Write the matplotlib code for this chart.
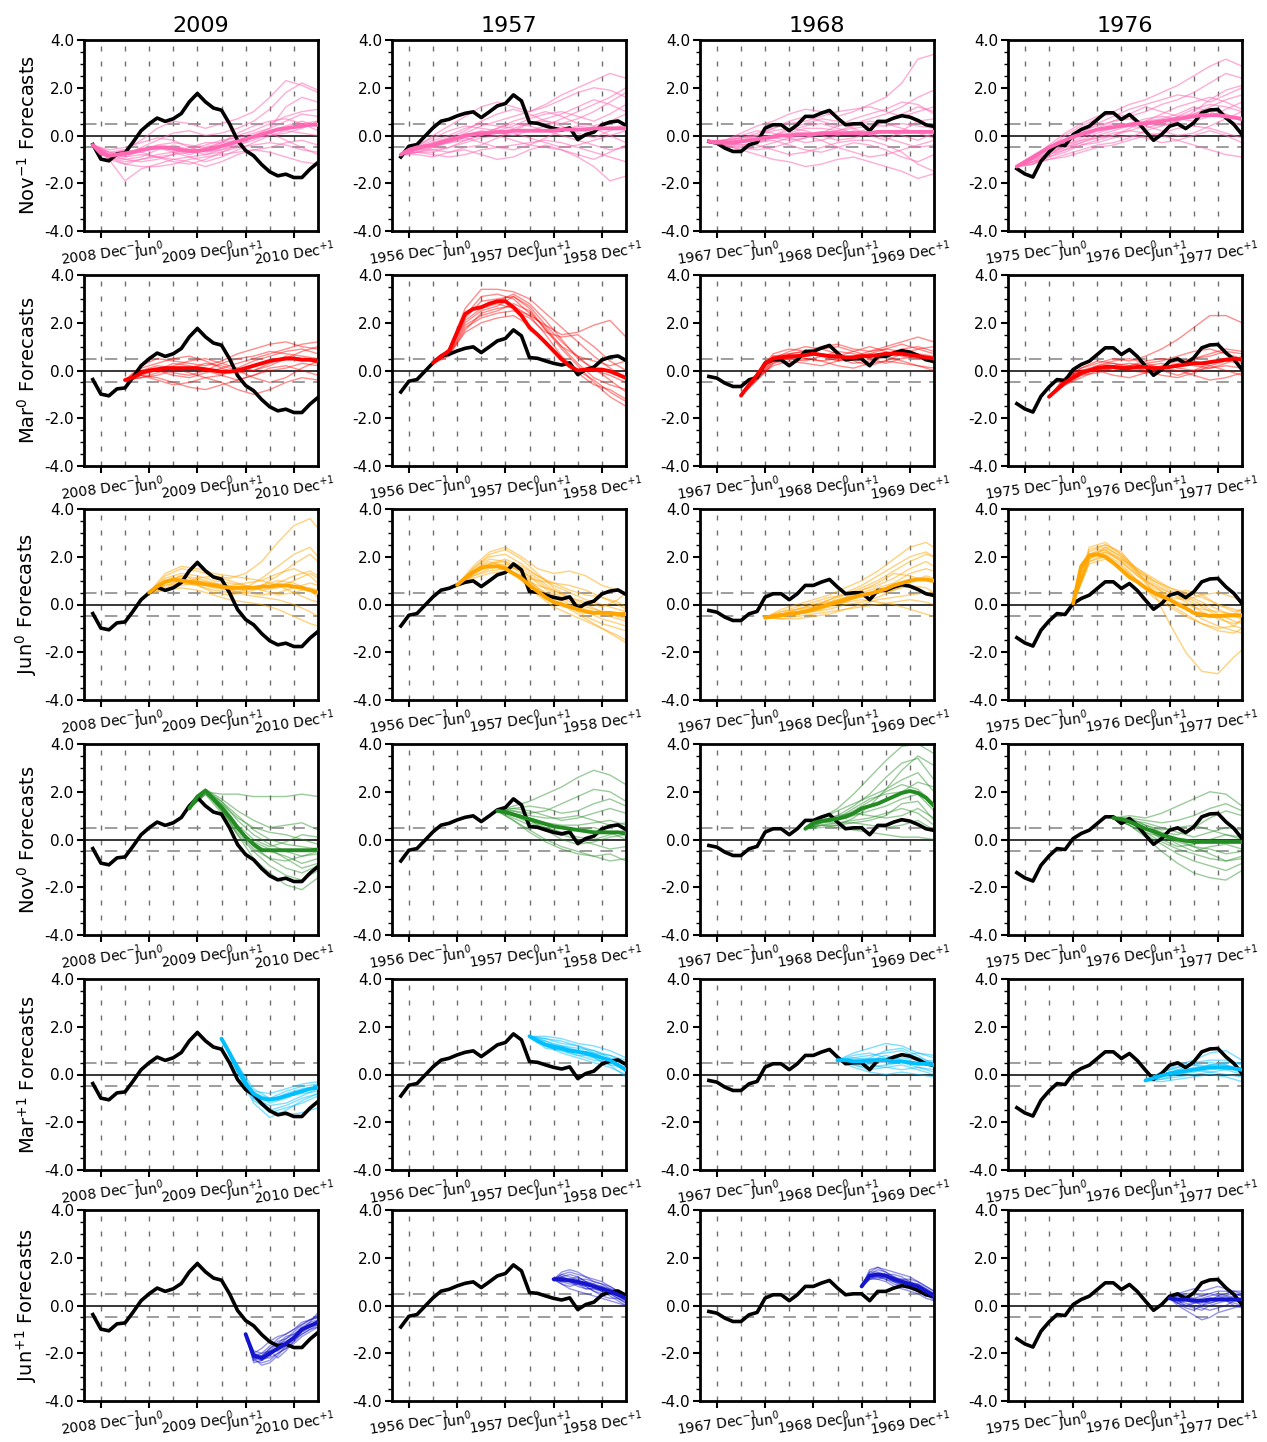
import numpy as np
import matplotlib
matplotlib.use("Agg")
import matplotlib.pyplot as plt
from matplotlib.ticker import MultipleLocator, FormatStrFormatter

plt.rcParams['font.family'] = ['DejaVu Sans']
plt.rcParams['axes.unicode_minus'] = False

# ---------------------------------------------------------------------------
# Data: Nino-3.4 style index, months counted from December of year -1 (= 0)
# ---------------------------------------------------------------------------
YEARS = [2009, 1957, 1968, 1976]
LEADS = ['novm1', 'mar0', 'jun0', 'nov0', 'marp1', 'junp1']
ROW_LABELS = ['Nov$^{-1}$ Forecasts', 'Mar$^{0}$ Forecasts', 'Jun$^{0}$ Forecasts',
              'Nov$^{0}$ Forecasts', 'Mar$^{+1}$ Forecasts', 'Jun$^{+1}$ Forecasts']
LEAD_START = {'novm1': -1, 'mar0': 3, 'jun0': 6, 'nov0': 11, 'marp1': 15, 'junp1': 18}
LEAD_COLOR = {'novm1': '#FF69B4', 'mar0': '#FF0000', 'jun0': '#FFA500',
              'nov0': '#228B22', 'marp1': '#00BFFF', 'junp1': '#1414CC'}
MEMBER_ALPHA = {'novm1': 0.55, 'mar0': 0.45, 'jun0': 0.5,
                'nov0': 0.45, 'marp1': 0.5, 'junp1': 0.45}
MEMBER_MONTHS = {
    'novm1': [-1, 1, 3, 5, 7, 9, 11, 13, 15, 17, 19, 21, 23, 25, 27],
    'mar0': [3, 5, 7, 9, 11, 13, 15, 17, 19, 21, 23, 25, 27],
    'jun0': [6, 8, 10, 12, 14, 16, 18, 20, 22, 24, 26, 27],
    'nov0': [11, 13, 15, 17, 19, 21, 23, 25, 27],
    'marp1': [15, 17, 19, 21, 23, 25, 27],
    'junp1': [18, 19, 20, 21, 22, 23, 24, 25, 26, 27],
}
OBS_START = -1

# observed index, Nov(-1) .. Mar(+2)
OBS_2009 = [-0.38, -0.99, -1.06, -0.77, -0.73, -0.28, 0.2, 0.49, 0.73, 0.59, 0.70, 0.92, 1.41, 1.76,
            1.41, 1.15, 1.06, 0.49, -0.21, -0.63, -0.85, -1.22, -1.52, -1.69, -1.62, -1.76, -1.76, -1.41, -1.13]
OBS_1957 = [-0.9, -0.45, -0.38, -0.03, 0.32, 0.6, 0.68, 0.82, 0.93, 0.99, 0.75, 0.99, 1.24, 1.34,
            1.7, 1.45, 0.54, 0.51, 0.4, 0.3, 0.23, 0.32, -0.17, 0.04, 0.14, 0.44, 0.56, 0.61, 0.42]
OBS_1968 = [-0.25, -0.32, -0.53, -0.67, -0.67, -0.39, -0.29, 0.31, 0.45, 0.45, 0.2, 0.45, 0.8, 0.8,
            0.94, 1.05, 0.73, 0.45, 0.49, 0.49, 0.2, 0.59, 0.59, 0.73, 0.83, 0.77, 0.63, 0.45, 0.38]
OBS_1976 = [-1.39, -1.61, -1.74, -1.08, -0.69, -0.38, -0.42, 0.04, 0.25, 0.39, 0.67, 0.95, 0.95, 0.67,
            0.88, 0.58, 0.18, -0.2, 0.04, 0.39, 0.49, 0.29, 0.53, 0.95, 1.07, 1.09, 0.74, 0.46, 0.04]

# ---- Nov(-1) initialised forecasts -----------------------------------------
MEAN_NOVM1_2009 = [-0.4, -0.75, -0.85, -0.8, -0.75, -0.7, -0.6, -0.55, -0.5, -0.5, -0.55, -0.6, -0.65, -0.65,
                   -0.6, -0.55, -0.45, -0.35, -0.25, -0.15, -0.05, 0.05, 0.15, 0.25, 0.3, 0.35, 0.4, 0.45, 0.45]
MEMBERS_NOVM1_2009 = [
    [-0.4, -1.0, -1.9, -1.4, -1.2, -1.0, -0.9, -0.8, -0.6, -0.4, -0.2, 0.1, 0.3, 0.5, 0.6],
    [-0.4, -0.8, -0.6, -0.2, 0.3, 0.6, 0.5, 0.3, 0.5, 0.7, 1.0, 1.6, 2.3, 2.1, 1.8],
    [-0.4, -0.9, -0.8, -0.5, -0.2, 0.1, 0.2, 0.0, 0.1, 0.3, 0.6, 1.1, 1.8, 2.2, 1.9],
    [-0.4, -0.7, -0.9, -0.8, -0.9, -1.1, -1.2, -1.0, -0.7, -0.5, -0.4, -0.3, -0.4, -0.6, -0.7],
    [-0.4, -0.9, -1.1, -1.0, -0.8, -0.7, -0.9, -1.1, -0.9, -0.6, -0.3, 0.0, 0.2, 0.1, 0.0],
    [-0.4, -0.8, -0.7, -0.6, -0.4, -0.3, -0.4, -0.5, -0.3, 0.0, 0.2, 0.5, 0.8, 1.0, 1.1],
    [-0.4, -0.6, -0.5, -0.3, -0.1, -0.2, -0.5, -0.7, -0.6, -0.3, 0.0, 0.3, 0.6, 0.9, 0.8],
    [-0.4, -1.0, -1.2, -1.3, -1.3, -1.2, -1.0, -0.9, -0.8, -0.7, -0.6, -0.5, -0.3, -0.2, -0.4],
    [-0.4, -0.8, -1.0, -0.9, -0.6, -0.4, -0.6, -0.8, -0.7, -0.4, -0.1, 0.2, 0.4, 0.6, 0.4],
    [-0.4, -0.7, -0.8, -0.7, -0.5, -0.6, -0.8, -0.6, -0.3, 0.1, 0.4, 0.6, 0.7, 0.5, 0.2],
    [-0.4, -0.9, -1.2, -1.0, -0.9, -1.0, -1.1, -1.3, -1.1, -0.8, -0.6, -0.7, -0.9, -1.1, -1.2],
    [-0.4, -0.8, -0.9, -0.6, -0.5, -0.7, -0.6, -0.4, -0.2, -0.1, 0.1, 0.3, 1.2, 1.6, 1.4],
    [-0.4, -0.7, -0.6, -0.7, -0.9, -0.8, -0.7, -0.5, -0.4, -0.2, -0.1, 0.0, 0.1, 0.3, 0.6],
    [-0.4, -0.9, -1.0, -1.1, -1.0, -0.8, -0.5, -0.3, -0.3, -0.2, 0.0, 0.1, -0.2, -0.5, -0.8],
]
MEAN_NOVM1_1957 = [-0.8, -0.6, -0.5, -0.45, -0.4, -0.3, -0.2, -0.1, 0.0, 0.05, 0.1, 0.1, 0.15, 0.15,
                   0.2, 0.2, 0.2, 0.2, 0.2, 0.2, 0.25, 0.25, 0.25, 0.25, 0.3, 0.3, 0.3, 0.3, 0.3]
MEMBERS_NOVM1_1957 = [
    [-0.8, -0.5, 0.0, 0.4, 0.8, 1.2, 1.4, 1.2, 1.0, 1.3, 1.7, 2.0, 2.3, 2.6, 2.4],
    [-0.8, -0.6, -0.4, -0.2, 0.1, 0.4, 0.6, 0.8, 1.0, 1.2, 1.5, 1.8, 2.0, 1.9, 1.6],
    [-0.8, -0.7, -0.6, -0.5, -0.3, -0.1, 0.0, -0.2, -0.4, -0.5, -0.6, -0.9, -1.3, -1.9, -1.7],
    [-0.8, -0.5, -0.2, 0.0, 0.3, 0.5, 0.4, 0.3, 0.5, 0.7, 0.9, 1.2, 1.5, 1.3, 1.0],
    [-0.8, -0.7, -0.8, -0.9, -0.8, -0.6, -0.5, -0.4, -0.3, -0.2, -0.3, -0.5, -0.7, -0.9, -1.1],
    [-0.8, -0.6, -0.5, -0.3, -0.1, 0.1, 0.3, 0.5, 0.4, 0.2, 0.0, -0.2, -0.4, -0.6, -0.5],
    [-0.8, -0.4, -0.1, 0.2, 0.4, 0.3, 0.2, 0.4, 0.7, 0.9, 1.0, 0.8, 0.6, 0.9, 1.3],
    [-0.8, -0.6, -0.6, -0.7, -0.5, -0.4, -0.1, 0.2, 0.5, 0.6, 0.4, 0.1, -0.1, 0.2, 0.5],
    [-0.8, -0.7, -0.5, -0.2, -0.1, -0.3, -0.5, -0.6, -0.4, -0.1, 0.2, 0.4, 0.3, 0.0, -0.3],
    [-0.8, -0.5, -0.3, -0.1, 0.2, 0.6, 0.9, 1.1, 0.9, 0.6, 0.5, 0.7, 1.0, 1.4, 1.8],
    [-0.8, -0.7, -0.7, -0.5, -0.2, 0.0, 0.2, 0.1, -0.1, -0.3, -0.5, -0.4, -0.2, 0.0, 0.2],
    [-0.8, -0.6, -0.3, -0.1, 0.0, 0.2, 0.1, 0.0, 0.2, 0.4, 0.7, 1.0, 1.3, 1.6, 2.0],
    [-0.8, -0.8, -0.9, -0.7, -0.6, -0.8, -1.0, -0.9, -0.6, -0.4, -0.6, -0.8, -1.0, -0.7, -0.4],
    [-0.8, -0.6, -0.4, -0.3, -0.2, 0.0, 0.3, 0.6, 0.8, 1.0, 0.8, 0.5, 0.4, 0.6, 0.9],
]
MEAN_NOVM1_1968 = [-0.25, -0.3, -0.3, -0.3, -0.25, -0.2, -0.15, -0.1, -0.05, 0.0, 0.0, 0.05, 0.05, 0.05,
                   0.1, 0.1, 0.1, 0.1, 0.1, 0.1, 0.1, 0.15, 0.15, 0.15, 0.15, 0.15, 0.15, 0.15, 0.15]
MEMBERS_NOVM1_1968 = [
    [-0.25, -0.2, 0.1, 0.4, 0.6, 0.9, 1.1, 1.0, 0.8, 1.0, 1.3, 1.6, 2.2, 3.2, 3.4],
    [-0.25, -0.4, -0.6, -0.8, -1.0, -1.1, -1.3, -1.2, -1.0, -0.9, -1.1, -1.3, -1.5, -1.8, -1.6],
    [-0.25, -0.2, -0.1, 0.1, 0.3, 0.5, 0.6, 0.8, 1.0, 1.1, 1.2, 1.0, 0.8, 1.0, 1.2],
    [-0.25, -0.3, -0.4, -0.3, -0.2, -0.4, -0.6, -0.7, -0.5, -0.3, -0.4, -0.6, -0.9, -1.1, -0.8],
    [-0.25, -0.4, -0.3, -0.1, 0.0, 0.2, 0.4, 0.5, 0.3, 0.1, 0.3, 0.6, 0.9, 1.2, 1.0],
    [-0.25, -0.3, -0.5, -0.6, -0.5, -0.3, -0.1, 0.1, 0.2, 0.4, 0.6, 0.5, 0.3, 0.1, -0.1],
    [-0.25, -0.2, 0.0, 0.2, 0.1, -0.1, -0.3, -0.2, 0.0, 0.2, 0.1, -0.1, -0.3, -0.5, -0.4],
    [-0.25, -0.3, -0.2, 0.0, 0.3, 0.6, 0.8, 0.6, 0.4, 0.5, 0.7, 0.9, 1.2, 1.6, 1.9],
    [-0.25, -0.4, -0.6, -0.5, -0.3, -0.1, 0.0, -0.2, -0.5, -0.7, -0.9, -0.8, -0.6, -0.4, -0.2],
    [-0.25, -0.2, -0.2, -0.3, -0.1, 0.1, 0.3, 0.3, 0.2, 0.3, 0.4, 0.4, 0.5, 0.4, 0.3],
    [-0.25, -0.3, -0.1, 0.0, -0.1, -0.2, -0.1, 0.1, 0.4, 0.7, 0.9, 1.1, 1.4, 1.3, 0.9],
    [-0.25, -0.3, -0.4, -0.4, -0.6, -0.8, -0.7, -0.5, -0.3, -0.2, -0.2, -0.4, -0.7, -1.2, -1.5],
    [-0.25, -0.2, -0.1, 0.0, 0.2, 0.3, 0.2, 0.0, -0.2, -0.1, 0.1, 0.2, 0.0, -0.2, 0.1],
    [-0.25, -0.4, -0.5, -0.3, 0.0, 0.3, 0.5, 0.7, 0.6, 0.3, 0.0, -0.2, 0.2, 0.6, 0.7],
]
MEAN_NOVM1_1976 = [-1.3, -1.1, -0.9, -0.7, -0.5, -0.35, -0.2, -0.05, 0.05, 0.15, 0.25, 0.3, 0.35, 0.4,
                   0.45, 0.5, 0.5, 0.55, 0.6, 0.65, 0.7, 0.75, 0.8, 0.85, 0.85, 0.85, 0.8, 0.75, 0.7]
MEMBERS_NOVM1_1976 = [
    [-1.3, -1.0, -0.5, 0.0, 0.4, 0.7, 1.0, 1.3, 1.5, 1.8, 2.1, 2.5, 2.9, 3.2, 2.9],
    [-1.3, -1.2, -0.9, -0.6, -0.3, -0.1, 0.1, 0.2, 0.1, 0.0, -0.2, -0.4, -0.6, -0.8, -0.9],
    [-1.3, -0.9, -0.4, 0.1, 0.5, 0.8, 0.9, 0.8, 1.0, 1.3, 1.5, 1.8, 2.2, 2.6, 2.4],
    [-1.3, -1.1, -0.8, -0.5, -0.2, 0.1, 0.3, 0.5, 0.7, 0.8, 0.7, 0.6, 0.8, 1.1, 1.4],
    [-1.3, -1.2, -1.0, -0.8, -0.6, -0.4, -0.3, -0.1, 0.2, 0.4, 0.6, 0.9, 1.2, 1.5, 1.7],
    [-1.3, -1.0, -0.6, -0.2, 0.2, 0.4, 0.6, 0.9, 1.2, 1.0, 0.8, 0.9, 1.1, 0.9, 0.6],
    [-1.3, -1.1, -0.9, -0.7, -0.4, -0.3, -0.1, 0.0, -0.1, -0.3, -0.2, 0.0, 0.2, 0.0, -0.3],
    [-1.3, -0.9, -0.6, -0.3, 0.0, 0.3, 0.6, 0.7, 0.5, 0.4, 0.6, 1.0, 1.5, 1.9, 2.1],
    [-1.3, -1.0, -0.7, -0.5, -0.3, 0.0, 0.2, 0.4, 0.6, 0.7, 0.9, 1.2, 1.0, 0.7, 0.4],
    [-1.3, -1.2, -0.8, -0.4, -0.1, 0.2, 0.5, 0.4, 0.3, 0.5, 0.8, 1.1, 1.3, 1.2, 1.0],
    [-1.3, -1.1, -0.7, -0.4, -0.2, -0.1, 0.0, 0.2, 0.4, 0.2, 0.0, 0.1, 0.4, 0.7, 1.0],
    [-1.3, -1.0, -0.8, -0.6, -0.4, -0.2, 0.0, 0.3, 0.6, 0.9, 1.2, 1.4, 1.6, 1.4, 1.1],
    [-1.3, -1.1, -1.0, -0.9, -0.7, -0.5, -0.4, -0.2, 0.0, 0.1, 0.3, 0.4, 0.3, 0.1, -0.1],
    [-1.3, -0.9, -0.5, -0.2, 0.1, 0.5, 0.8, 1.1, 1.3, 1.5, 1.7, 1.6, 1.4, 1.7, 2.0],
]

# ---- Mar(0) initialised forecasts ------------------------------------------
MEAN_MAR0_2009 = [-0.4, -0.3, -0.1, 0.0, 0.05, 0.1, 0.1, 0.1, 0.1, 0.1, 0.05, 0.0, -0.05,
                  -0.05, 0.0, 0.1, 0.2, 0.3, 0.4, 0.45, 0.5, 0.5, 0.45, 0.45, 0.4]
MEMBERS_MAR0_2009 = [
    [-0.4, 0.2, 0.5, 0.4, 0.3, 0.2, 0.4, 0.7, 0.9, 1.1, 1.2, 1.0, 0.9],
    [-0.4, -0.2, -0.3, -0.5, -0.7, -0.8, -0.6, -0.4, -0.2, 0.0, 0.1, 0.3, 0.2],
    [-0.4, 0.0, 0.2, 0.1, -0.1, -0.3, -0.2, 0.1, 0.4, 0.6, 0.8, 0.9, 0.7],
    [-0.4, -0.3, -0.1, 0.2, 0.4, 0.5, 0.3, 0.1, 0.0, 0.2, 0.5, 0.8, 1.0],
    [-0.4, -0.2, -0.4, -0.6, -0.5, -0.3, -0.5, -0.8, -1.0, -0.8, -0.5, -0.3, -0.4],
    [-0.4, 0.1, 0.3, 0.5, 0.6, 0.4, 0.1, -0.1, 0.0, 0.3, 0.6, 0.5, 0.3],
    [-0.4, -0.1, 0.0, -0.2, -0.3, -0.1, 0.1, 0.3, 0.5, 0.7, 0.9, 1.1, 1.2],
    [-0.4, -0.2, 0.0, 0.3, 0.2, 0.0, -0.2, -0.4, -0.2, 0.1, 0.2, 0.0, -0.2],
    [-0.4, 0.0, 0.1, -0.1, -0.2, 0.0, 0.3, 0.5, 0.6, 0.8, 0.7, 0.6, 0.5],
    [-0.4, -0.3, -0.2, 0.0, 0.1, 0.3, 0.2, 0.0, -0.3, -0.5, -0.3, 0.1, 0.4],
]
MEAN_MAR0_1957 = [0.32, 0.6, 0.82, 1.6, 2.37, 2.58, 2.65, 2.8, 2.9, 2.9, 2.65, 2.3, 1.8,
                  1.5, 1.17, 0.82, 0.47, 0.18, 0.0, 0.04, 0.04, 0.04, -0.03, -0.17, -0.31]
MEMBERS_MAR0_1957 = [
    [0.3, 0.9, 2.6, 3.4, 3.4, 3.3, 3.0, 2.4, 1.8, 1.2, 0.6, 0.1, -0.3],
    [0.3, 0.8, 2.0, 2.5, 2.7, 3.1, 2.7, 1.9, 1.5, 1.6, 1.9, 2.1, 1.4],
    [0.3, 0.7, 1.8, 2.2, 2.4, 2.5, 2.2, 1.6, 1.4, 1.5, 1.0, 0.4, 0.0],
    [0.3, 0.8, 2.3, 3.1, 3.2, 3.0, 2.4, 1.8, 1.0, 0.3, -0.3, -0.6, -0.8],
    [0.3, 0.7, 1.6, 2.0, 2.2, 2.3, 1.9, 1.1, 0.5, -0.1, -0.6, -0.8, -1.2],
    [0.3, 0.9, 2.4, 2.7, 2.9, 3.2, 2.8, 2.1, 1.3, 0.5, 0.1, -0.4, -0.9],
    [0.3, 0.8, 2.1, 2.6, 2.8, 2.6, 2.3, 1.9, 1.2, 0.6, 0.0, -0.2, -0.5],
    [0.3, 0.7, 1.9, 2.3, 2.5, 2.8, 2.5, 1.7, 0.9, 0.2, -0.5, -1.1, -1.5],
    [0.3, 0.8, 2.2, 2.9, 3.0, 3.1, 2.6, 1.7, 1.0, 0.6, 0.4, 0.2, 0.4],
    [0.3, 0.6, 1.7, 2.4, 2.6, 2.7, 2.3, 1.5, 0.6, 0.0, -0.4, -0.9, -1.3],
]
MEAN_MAR0_1968 = [-1.05, -0.6, -0.2, 0.3, 0.5, 0.55, 0.6, 0.6, 0.65, 0.7, 0.65, 0.6, 0.6,
                  0.55, 0.55, 0.6, 0.6, 0.65, 0.7, 0.7, 0.7, 0.65, 0.6, 0.55, 0.5]
MEMBERS_MAR0_1968 = [
    [-1.05, -0.1, 0.7, 0.9, 0.8, 1.0, 1.1, 0.9, 0.8, 1.0, 1.2, 1.4, 1.2],
    [-1.05, -0.3, 0.4, 0.3, 0.5, 0.4, 0.2, 0.1, 0.3, 0.4, 0.3, 0.2, 0.0],
    [-1.05, -0.2, 0.6, 0.7, 0.8, 0.7, 0.5, 0.6, 0.8, 0.9, 0.8, 0.7, 0.6],
    [-1.05, -0.4, 0.3, 0.5, 0.4, 0.6, 0.8, 0.7, 0.5, 0.3, 0.5, 0.6, 0.4],
    [-1.05, -0.2, 0.5, 0.8, 1.0, 0.9, 0.7, 0.4, 0.2, 0.4, 0.7, 0.9, 1.0],
    [-1.05, -0.3, 0.2, 0.4, 0.3, 0.2, 0.4, 0.6, 0.7, 0.6, 0.4, 0.2, 0.1],
    [-1.05, -0.1, 0.6, 0.6, 0.7, 0.9, 1.0, 0.8, 0.6, 0.7, 0.9, 1.0, 0.8],
    [-1.05, -0.3, 0.4, 0.6, 0.5, 0.4, 0.5, 0.3, 0.4, 0.6, 0.8, 0.6, 0.3],
    [-1.05, -0.2, 0.5, 0.5, 0.6, 0.7, 0.6, 0.8, 1.0, 0.8, 0.6, 0.5, 0.5],
    [-1.05, -0.4, 0.3, 0.7, 0.8, 0.6, 0.4, 0.5, 0.7, 0.9, 1.1, 0.9, 0.7],
]
MEAN_MAR0_1976 = [-1.1, -0.8, -0.5, -0.3, -0.1, 0.0, 0.1, 0.15, 0.15, 0.1, 0.1, 0.15, 0.15,
                  0.1, 0.1, 0.15, 0.2, 0.25, 0.3, 0.3, 0.35, 0.4, 0.45, 0.5, 0.45]
MEMBERS_MAR0_1976 = [
    [-1.1, -0.3, 0.1, 0.3, 0.5, 0.4, 0.6, 0.9, 1.3, 1.8, 2.3, 2.3, 2.0],
    [-1.1, -0.5, -0.1, 0.0, -0.2, -0.3, -0.1, 0.1, 0.0, -0.2, -0.4, -0.3, -0.1],
    [-1.1, -0.4, 0.0, 0.2, 0.3, 0.1, 0.0, 0.2, 0.4, 0.5, 0.6, 0.8, 0.7],
    [-1.1, -0.6, -0.2, 0.1, 0.2, 0.3, 0.2, 0.0, -0.2, 0.0, 0.3, 0.5, 0.4],
    [-1.1, -0.4, 0.1, 0.4, 0.3, 0.2, 0.4, 0.5, 0.4, 0.2, 0.1, 0.3, 0.6],
    [-1.1, -0.5, -0.2, -0.1, 0.1, 0.2, 0.0, -0.2, -0.3, -0.1, 0.2, 0.4, 0.3],
    [-1.1, -0.3, 0.0, 0.1, 0.0, 0.2, 0.3, 0.4, 0.6, 0.8, 0.9, 0.7, 0.5],
    [-1.1, -0.5, -0.1, 0.2, 0.4, 0.5, 0.3, 0.1, 0.2, 0.4, 0.2, 0.0, -0.2],
    [-1.1, -0.4, 0.0, 0.0, 0.1, 0.0, -0.1, 0.1, 0.3, 0.5, 0.7, 0.9, 0.8],
    [-1.1, -0.6, -0.3, 0.0, 0.2, 0.1, 0.2, 0.3, 0.1, 0.0, 0.1, 0.2, 0.1],
]

# ---- Jun(0) initialised forecasts ------------------------------------------
MEAN_JUN0_2009 = [0.5, 0.75, 0.95, 1.05, 1.0, 0.95, 0.9, 0.85, 0.8, 0.75, 0.7,
                  0.7, 0.7, 0.7, 0.75, 0.75, 0.8, 0.8, 0.75, 0.7, 0.6, 0.5]
MEMBERS_JUN0_2009 = [
    [0.5, 1.2, 1.5, 1.4, 1.2, 1.1, 1.3, 1.8, 2.6, 3.3, 3.6, 3.2],
    [0.5, 0.9, 1.2, 1.0, 0.8, 0.6, 0.7, 1.1, 1.6, 2.1, 2.4, 2.0],
    [0.5, 0.6, 0.7, 0.6, 0.4, 0.2, 0.1, 0.0, -0.2, -0.5, -0.8, -0.9],
    [0.5, 1.1, 1.3, 1.2, 1.0, 0.9, 0.8, 0.6, 0.7, 1.0, 1.3, 1.1],
    [0.5, 0.8, 0.9, 0.8, 0.6, 0.5, 0.6, 0.8, 1.2, 1.7, 2.1, 1.8],
    [0.5, 1.0, 1.1, 0.9, 0.7, 0.6, 0.4, 0.3, 0.2, 0.0, -0.3, -0.5],
    [0.5, 0.7, 0.9, 1.1, 1.2, 1.0, 0.8, 0.6, 0.4, 0.5, 0.7, 0.6],
    [0.5, 0.9, 1.0, 0.8, 0.5, 0.4, 0.5, 0.7, 0.9, 1.2, 1.4, 1.2],
    [0.5, 1.3, 1.6, 1.5, 1.3, 1.2, 1.1, 1.0, 0.8, 0.5, 0.2, 0.1],
    [0.5, 0.8, 1.0, 1.0, 0.9, 0.7, 0.6, 0.8, 1.0, 0.9, 0.6, 0.3],
    [0.5, 0.6, 0.8, 0.9, 0.8, 0.6, 0.5, 0.4, 0.5, 0.7, 0.9, 0.8],
    [0.5, 1.0, 1.2, 1.1, 0.9, 0.8, 0.9, 1.0, 1.3, 1.5, 1.2, 0.9],
]
MEAN_JUN0_1957 = [0.82, 1.1, 1.35, 1.55, 1.6, 1.6, 1.5, 1.3, 1.1, 0.8, 0.55,
                  0.3, 0.1, 0.0, -0.1, -0.2, -0.3, -0.35, -0.35, -0.35, -0.4, -0.4]
MEMBERS_JUN0_1957 = [
    [0.82, 1.6, 2.2, 2.4, 2.0, 1.5, 1.3, 1.4, 1.2, 0.8, 0.6, 0.4],
    [0.82, 1.4, 1.9, 1.8, 1.3, 0.7, 0.2, -0.2, -0.6, -1.0, -1.3, -1.5],
    [0.82, 1.3, 1.6, 1.7, 1.4, 1.0, 0.5, 0.1, -0.2, -0.4, -0.6, -0.7],
    [0.82, 1.5, 2.0, 2.1, 1.7, 1.2, 0.8, 0.5, 0.2, 0.0, -0.2, -0.3],
    [0.82, 1.2, 1.4, 1.5, 1.2, 0.7, 0.3, -0.1, -0.5, -0.8, -1.0, -1.1],
    [0.82, 1.3, 1.7, 1.9, 1.6, 1.2, 0.9, 0.6, 0.4, 0.3, 0.0, -0.2],
    [0.82, 1.4, 1.8, 1.6, 1.0, 0.4, -0.1, -0.4, -0.7, -1.0, -1.4, -1.6],
    [0.82, 1.1, 1.3, 1.4, 1.1, 0.8, 0.6, 0.3, 0.0, -0.3, -0.5, -0.5],
    [0.82, 1.5, 2.1, 2.3, 1.9, 1.3, 0.7, 0.3, 0.1, -0.1, 0.2, 0.5],
    [0.82, 1.2, 1.5, 1.6, 1.4, 0.9, 0.4, 0.0, -0.3, -0.6, -0.8, -0.9],
    [0.82, 1.3, 1.6, 1.5, 1.2, 1.0, 0.9, 0.8, 0.6, 0.3, 0.1, -0.1],
    [0.82, 1.4, 1.7, 1.8, 1.5, 1.1, 0.6, 0.2, -0.1, -0.3, -0.5, -0.6],
]
MEAN_JUN0_1968 = [-0.55, -0.5, -0.45, -0.4, -0.35, -0.3, -0.2, -0.1, 0.0, 0.1, 0.2,
                  0.3, 0.4, 0.45, 0.55, 0.65, 0.8, 0.9, 1.0, 1.05, 1.05, 1.0]
MEMBERS_JUN0_1968 = [
    [-0.55, -0.2, 0.0, 0.2, 0.4, 0.7, 1.0, 1.4, 1.9, 2.4, 2.6, 2.4],
    [-0.55, -0.6, -0.5, -0.4, -0.3, -0.2, -0.1, 0.0, 0.1, 0.2, 0.1, 0.0],
    [-0.55, -0.4, -0.2, 0.0, 0.2, 0.5, 0.8, 1.2, 1.6, 2.0, 2.2, 2.0],
    [-0.55, -0.5, -0.4, -0.2, 0.0, 0.2, 0.3, 0.5, 0.6, 0.8, 0.7, 0.5],
    [-0.55, -0.3, -0.1, 0.1, 0.3, 0.4, 0.6, 0.8, 1.1, 1.5, 1.8, 1.6],
    [-0.55, -0.6, -0.6, -0.5, -0.4, -0.2, 0.0, 0.2, 0.3, 0.4, 0.5, 0.5],
    [-0.55, -0.4, -0.3, -0.1, 0.1, 0.3, 0.6, 0.9, 1.3, 1.2, 1.0, 0.9],
    [-0.55, -0.5, -0.3, -0.3, -0.2, 0.0, 0.1, 0.3, 0.6, 0.9, 1.2, 1.1],
    [-0.55, -0.4, -0.4, -0.2, 0.0, 0.1, 0.2, 0.1, 0.0, -0.2, -0.4, -0.5],
    [-0.55, -0.3, -0.2, 0.0, 0.1, 0.3, 0.5, 0.7, 0.9, 1.3, 1.5, 1.4],
    [-0.55, -0.5, -0.4, -0.3, -0.1, 0.1, 0.4, 0.6, 0.8, 0.7, 0.5, 0.3],
    [-0.55, -0.4, -0.2, -0.1, 0.2, 0.4, 0.7, 1.0, 1.4, 1.8, 2.1, 2.0],
]
MEAN_JUN0_1976 = [0.05, 1.6, 2.05, 2.1, 2.0, 1.75, 1.45, 1.15, 0.95, 0.7, 0.5,
                  0.35, 0.2, 0.0, -0.15, -0.35, -0.42, -0.48, -0.48, -0.47, -0.45, -0.45]
MEMBERS_JUN0_1976 = [
    [0.05, 2.2, 2.5, 2.2, 1.4, 0.5, -0.8, -2.0, -2.8, -2.9, -2.2, -1.9],
    [0.05, 2.4, 2.6, 2.1, 1.4, 1.0, 0.7, 0.5, 0.3, 0.0, -0.3, -0.2],
    [0.05, 1.8, 2.0, 1.6, 1.0, 0.5, 0.0, -0.4, -0.8, -1.1, -1.2, -1.0],
    [0.05, 2.1, 2.4, 2.0, 1.4, 0.9, 0.5, 0.1, -0.3, -0.6, -0.8, -0.7],
    [0.05, 1.9, 2.2, 1.8, 1.2, 0.6, 0.3, 0.2, 0.4, 0.5, 0.3, 0.1],
    [0.05, 2.0, 2.3, 1.9, 1.3, 0.8, 0.3, -0.2, -0.6, -0.9, -1.1, -1.2],
    [0.05, 1.7, 1.9, 1.5, 0.9, 0.4, 0.2, 0.0, -0.2, -0.3, -0.4, -0.2],
    [0.05, 2.3, 2.5, 2.1, 1.5, 1.0, 0.6, 0.3, 0.0, -0.4, -0.7, -0.8],
    [0.05, 1.8, 2.1, 1.7, 1.0, 0.3, -0.1, -0.5, -0.8, -1.0, -0.9, -0.6],
    [0.05, 2.0, 2.2, 1.9, 1.5, 1.1, 0.7, 0.4, 0.1, -0.2, -0.5, -0.6],
    [0.05, 1.9, 2.4, 2.0, 1.3, 0.7, 0.4, 0.6, 0.4, 0.0, -0.2, -0.3],
    [0.05, 2.1, 2.3, 1.8, 1.2, 0.8, 0.5, 0.2, -0.1, -0.5, -0.9, -1.0],
]

# ---- Nov(0) initialised forecasts ------------------------------------------
MEAN_NOV0_2009 = [1.3, 1.8, 2.05, 1.7, 1.35, 0.95, 0.5, 0.1, -0.2, -0.45, -0.45,
                  -0.45, -0.45, -0.45, -0.45, -0.45, -0.42]
MEMBERS_NOV0_2009 = [
    [1.3, 2.0, 1.9, 1.9, 1.8, 1.8, 1.8, 1.9, 1.8],
    [1.3, 2.0, 1.3, 0.2, -0.8, -1.4, -1.9, -2.1, -1.6],
    [1.3, 2.1, 1.6, 0.8, 0.2, -0.2, -0.5, -0.7, -0.5],
    [1.3, 1.9, 1.5, 0.9, 0.5, 0.3, 0.2, 0.0, -0.2],
    [1.3, 2.0, 1.2, 0.3, -0.4, -0.8, -1.2, -1.4, -1.1],
    [1.3, 2.1, 1.7, 1.2, 0.8, 0.5, 0.6, 0.7, 0.4],
    [1.3, 2.0, 1.4, 0.5, -0.2, -0.5, -0.7, -1.0, -0.8],
    [1.3, 1.9, 1.1, 0.2, -0.5, -1.1, -1.5, -1.7, -1.3],
    [1.3, 2.0, 1.6, 1.0, 0.4, 0.0, -0.2, -0.3, -0.4],
    [1.3, 2.1, 1.5, 0.6, 0.0, -0.3, -0.1, 0.2, 0.1],
    [1.3, 1.9, 1.3, 0.5, -0.3, -0.8, -0.9, -0.7, -0.6],
    [1.3, 2.0, 1.2, 0.4, -0.1, -0.4, -0.8, -1.2, -1.0],
]
MEAN_NOV0_1957 = [1.2, 1.15, 1.05, 0.95, 0.85, 0.75, 0.65, 0.55, 0.5, 0.45, 0.4,
                  0.35, 0.3, 0.3, 0.3, 0.3, 0.25]
MEMBERS_NOV0_1957 = [
    [1.2, 1.4, 1.6, 1.9, 2.2, 2.6, 2.9, 2.7, 2.3],
    [1.2, 0.8, 0.4, 0.0, -0.3, -0.5, -0.7, -0.9, -0.8],
    [1.2, 1.2, 1.1, 1.2, 1.5, 1.8, 2.1, 2.0, 1.6],
    [1.2, 1.0, 0.7, 0.4, 0.2, 0.0, -0.2, -0.4, -0.3],
    [1.2, 1.3, 1.2, 1.0, 0.8, 0.9, 1.1, 1.3, 1.1],
    [1.2, 0.9, 0.6, 0.5, 0.3, 0.1, 0.0, 0.2, 0.4],
    [1.2, 1.1, 0.9, 0.7, 0.6, 0.6, 0.7, 0.8, 0.6],
    [1.2, 0.8, 0.3, -0.1, -0.4, -0.6, -0.7, -0.6, -0.9],
    [1.2, 1.3, 1.4, 1.3, 1.1, 1.2, 1.5, 1.7, 1.4],
    [1.2, 1.0, 0.8, 0.5, 0.3, 0.4, 0.5, 0.3, 0.0],
    [1.2, 1.1, 0.8, 0.4, 0.0, -0.2, -0.1, 0.1, 0.2],
    [1.2, 1.2, 1.0, 0.9, 0.9, 1.0, 0.8, 0.6, 0.7],
]
MEAN_NOV0_1968 = [0.45, 0.7, 0.78, 0.82, 0.88, 0.95, 1.1, 1.3, 1.4, 1.5, 1.65,
                  1.8, 1.95, 2.03, 1.95, 1.75, 1.4]
MEMBERS_NOV0_1968 = [
    [0.45, 0.9, 1.3, 1.9, 2.6, 3.3, 3.9, 4.0, 3.6],
    [0.45, 0.6, 0.5, 0.4, 0.3, 0.2, 0.1, 0.1, 0.0],
    [0.45, 0.8, 1.0, 1.4, 1.9, 2.6, 3.2, 3.4, 2.5],
    [0.45, 0.7, 0.7, 0.8, 0.9, 1.1, 1.3, 1.1, 0.6],
    [0.45, 0.9, 1.2, 1.5, 1.8, 2.1, 2.5, 2.8, 2.0],
    [0.45, 0.6, 0.6, 0.7, 0.6, 0.5, 0.6, 0.8, 0.4],
    [0.45, 0.8, 0.9, 1.2, 1.6, 2.0, 2.3, 2.1, 1.5],
    [0.45, 0.7, 0.8, 1.0, 1.2, 1.4, 1.7, 1.9, 1.2],
    [0.45, 0.5, 0.6, 0.9, 1.4, 2.1, 2.9, 3.5, 3.1],
    [0.45, 0.8, 1.0, 1.1, 1.0, 0.9, 1.0, 1.3, 0.9],
    [0.45, 0.7, 0.9, 1.3, 1.7, 1.9, 2.0, 2.4, 2.2],
    [0.45, 0.6, 0.7, 0.7, 0.8, 1.0, 1.5, 1.6, 0.8],
]
MEAN_NOV0_1976 = [0.9, 0.85, 0.75, 0.6, 0.45, 0.35, 0.2, 0.1, 0.0, -0.05, -0.1,
                  -0.1, -0.1, -0.1, -0.1, -0.1, -0.1]
MEMBERS_NOV0_1976 = [
    [0.9, 1.0, 0.9, 1.1, 1.4, 1.7, 2.0, 1.9, 1.4],
    [0.9, 0.6, 0.1, -0.5, -1.0, -1.4, -1.6, -1.7, -1.3],
    [0.9, 0.9, 0.6, 0.3, 0.2, 0.5, 0.9, 1.2, 1.0],
    [0.9, 0.7, 0.3, -0.1, -0.4, -0.6, -0.8, -0.9, -0.7],
    [0.9, 0.8, 0.6, 0.4, 0.5, 0.6, 0.4, 0.2, 0.0],
    [0.9, 0.6, 0.2, -0.2, -0.6, -0.9, -1.1, -1.3, -1.0],
    [0.9, 0.9, 0.8, 0.7, 0.8, 1.0, 1.3, 1.5, 1.2],
    [0.9, 0.7, 0.4, 0.1, -0.1, -0.3, -0.4, -0.6, -0.5],
    [0.9, 0.8, 0.5, 0.0, -0.3, -0.2, 0.0, 0.2, 0.1],
    [0.9, 0.6, 0.3, 0.1, 0.0, -0.3, -0.6, -0.9, -0.8],
    [0.9, 0.8, 0.7, 0.5, 0.3, 0.1, 0.3, 0.5, 0.4],
    [0.9, 0.7, 0.5, 0.2, -0.2, -0.5, -0.3, -0.2, -0.4],
]

# ---- Mar(+1) initialised forecasts -----------------------------------------
MEAN_MARP1_2009 = [1.5, 0.9, 0.2, -0.4, -0.8, -1.0, -1.05, -1.0, -0.9, -0.8, -0.7, -0.6, -0.55]
MEMBERS_MARP1_2009 = [
    [1.5, 0.4, -0.9, -1.5, -1.7, -1.6, -1.4],
    [1.5, 0.1, -1.2, -1.8, -1.5, -1.1, -0.8],
    [1.5, 0.3, -0.8, -1.2, -1.0, -0.7, -0.5],
    [1.5, 0.2, -0.7, -0.8, -0.6, -0.4, -0.3],
    [1.5, 0.3, -1.0, -1.3, -1.2, -0.9, -0.6],
    [1.5, 0.4, -0.6, -1.0, -0.9, -0.8, -0.7],
    [1.5, 0.2, -1.1, -1.5, -1.3, -1.0, -0.8],
    [1.5, 0.3, -0.9, -1.1, -0.8, -0.6, -0.5],
    [1.5, 0.1, -1.0, -1.6, -1.4, -1.2, -0.9],
    [1.5, 0.4, -0.8, -1.0, -0.7, -0.5, -0.4],
]
MEAN_MARP1_1957 = [1.6, 1.4, 1.25, 1.15, 1.1, 1.0, 0.95, 0.9, 0.8, 0.7, 0.6, 0.4, 0.2]
MEMBERS_MARP1_1957 = [
    [1.6, 1.6, 1.5, 1.3, 1.2, 1.0, 0.7],
    [1.6, 1.2, 0.9, 0.7, 0.5, 0.3, 0.0],
    [1.6, 1.5, 1.3, 1.2, 1.0, 0.7, 0.4],
    [1.6, 1.1, 1.0, 0.8, 0.6, 0.5, 0.2],
    [1.6, 1.4, 1.2, 1.0, 0.9, 0.6, 0.1],
    [1.6, 1.3, 1.1, 0.9, 0.7, 0.4, 0.3],
    [1.6, 1.5, 1.4, 1.2, 0.9, 0.8, 0.5],
    [1.6, 1.2, 1.0, 0.8, 0.8, 0.6, 0.2],
    [1.6, 1.4, 1.1, 1.0, 0.7, 0.4, -0.1],
    [1.6, 1.3, 1.2, 1.1, 1.0, 0.8, 0.6],
]
MEAN_MARP1_1968 = [0.6, 0.6, 0.55, 0.55, 0.6, 0.6, 0.6, 0.55, 0.55, 0.5, 0.45, 0.45, 0.4]
MEMBERS_MARP1_1968 = [
    [0.6, 0.9, 1.1, 1.3, 1.2, 0.9, 0.7],
    [0.6, 0.3, 0.1, 0.0, 0.1, 0.0, -0.1],
    [0.6, 0.7, 0.8, 0.9, 1.0, 0.7, 0.5],
    [0.6, 0.5, 0.4, 0.3, 0.2, 0.3, 0.2],
    [0.6, 0.8, 0.9, 0.7, 0.8, 0.9, 0.8],
    [0.6, 0.4, 0.3, 0.4, 0.5, 0.3, 0.1],
    [0.6, 0.7, 0.6, 0.8, 0.6, 0.5, 0.6],
    [0.6, 0.5, 0.5, 0.6, 0.7, 0.6, 0.3],
    [0.6, 0.6, 0.7, 1.0, 1.1, 0.8, 0.4],
    [0.6, 0.4, 0.2, 0.3, 0.4, 0.2, 0.0],
]
MEAN_MARP1_1976 = [-0.25, -0.15, -0.05, 0.05, 0.1, 0.15, 0.2, 0.25, 0.3, 0.3, 0.3, 0.25, 0.2]
MEMBERS_MARP1_1976 = [
    [-0.25, 0.1, 0.4, 0.6, 0.9, 1.0, 0.6],
    [-0.25, -0.3, -0.2, -0.1, 0.0, -0.1, -0.3],
    [-0.25, 0.0, 0.2, 0.4, 0.5, 0.4, 0.2],
    [-0.25, -0.1, 0.0, 0.1, 0.2, 0.3, 0.1],
    [-0.25, 0.1, 0.3, 0.5, 0.6, 0.6, 0.4],
    [-0.25, -0.2, -0.1, 0.0, 0.1, 0.2, 0.0],
    [-0.25, 0.0, 0.1, 0.3, 0.4, 0.5, 0.5],
    [-0.25, -0.1, 0.2, 0.2, 0.1, 0.0, -0.1],
    [-0.25, 0.1, 0.3, 0.4, 0.3, 0.2, 0.3],
    [-0.25, -0.2, 0.0, 0.2, 0.4, 0.4, 0.1],
]

# ---- Jun(+1) initialised forecasts -----------------------------------------
MEAN_JUNP1_2009 = [-1.2, -2.1, -2.2, -2.0, -1.8, -1.6, -1.35, -1.0, -0.85, -0.7]
MEMBERS_JUNP1_2009 = [
    [-1.2, -2.3, -2.4, -2.3, -2.0, -1.8, -1.5, -1.2, -1.0, -0.9],
    [-1.2, -1.9, -2.0, -1.7, -1.4, -1.2, -1.0, -0.7, -0.6, -0.5],
    [-1.2, -2.2, -2.5, -2.4, -2.1, -1.7, -1.3, -1.0, -0.9, -0.8],
    [-1.2, -2.0, -2.1, -1.8, -1.6, -1.5, -1.3, -1.1, -0.9, -0.7],
    [-1.2, -2.4, -2.3, -2.1, -1.7, -1.4, -1.1, -0.8, -0.6, -0.4],
    [-1.2, -2.1, -2.2, -2.2, -2.0, -1.8, -1.6, -1.3, -1.1, -0.9],
    [-1.2, -2.0, -1.8, -1.5, -1.3, -1.2, -1.0, -0.8, -0.6, -0.5],
    [-1.2, -2.2, -2.3, -2.0, -1.9, -1.7, -1.4, -1.0, -0.8, -0.7],
    [-1.2, -2.1, -2.0, -1.9, -2.2, -1.9, -1.5, -1.1, -0.9, -0.6],
    [-1.2, -2.3, -2.1, -1.9, -1.6, -1.3, -1.2, -0.9, -0.7, -0.6],
    [-1.2, -2.0, -2.3, -2.1, -1.8, -1.6, -1.4, -1.2, -1.0, -0.8],
    [-1.2, -2.2, -2.2, -1.8, -1.5, -1.4, -1.2, -1.0, -0.7, -0.3],
]
MEAN_JUNP1_1957 = [1.1, 1.1, 1.05, 1.0, 0.9, 0.8, 0.7, 0.6, 0.45, 0.3]
MEMBERS_JUNP1_1957 = [
    [1.1, 1.3, 1.4, 1.3, 1.2, 1.1, 1.0, 0.8, 0.6, 0.5],
    [1.1, 0.9, 0.7, 0.6, 0.5, 0.4, 0.3, 0.2, 0.1, 0.0],
    [1.1, 1.2, 1.3, 1.2, 1.0, 0.9, 0.8, 0.6, 0.4, 0.2],
    [1.1, 1.0, 0.9, 0.9, 0.8, 0.6, 0.5, 0.5, 0.3, 0.1],
    [1.1, 1.3, 1.2, 1.1, 1.1, 1.0, 0.9, 0.7, 0.6, 0.4],
    [1.1, 1.0, 1.0, 0.8, 0.7, 0.7, 0.6, 0.4, 0.2, 0.0],
    [1.1, 1.2, 1.1, 1.0, 0.9, 0.8, 0.8, 0.7, 0.5, 0.4],
    [1.1, 0.9, 0.8, 0.9, 0.8, 0.6, 0.4, 0.3, 0.3, 0.2],
    [1.1, 1.4, 1.5, 1.4, 1.2, 1.0, 0.9, 0.8, 0.6, 0.3],
    [1.1, 1.1, 1.0, 0.9, 1.0, 0.9, 0.7, 0.5, 0.4, 0.3],
    [1.1, 1.0, 1.1, 1.2, 1.0, 0.8, 0.6, 0.5, 0.3, 0.1],
    [1.1, 1.2, 1.0, 0.9, 0.7, 0.7, 0.6, 0.6, 0.5, 0.3],
]
MEAN_JUNP1_1968 = [0.8, 1.25, 1.3, 1.25, 1.1, 1.0, 0.9, 0.8, 0.6, 0.4]
MEMBERS_JUNP1_1968 = [
    [0.8, 1.4, 1.6, 1.5, 1.4, 1.3, 1.2, 1.0, 0.8, 0.6],
    [0.8, 1.1, 1.1, 1.0, 0.8, 0.7, 0.6, 0.5, 0.3, 0.2],
    [0.8, 1.3, 1.5, 1.4, 1.2, 1.0, 0.9, 0.9, 0.7, 0.5],
    [0.8, 1.2, 1.2, 1.1, 1.0, 0.9, 0.8, 0.6, 0.5, 0.3],
    [0.8, 1.4, 1.4, 1.3, 1.3, 1.2, 1.0, 0.8, 0.6, 0.4],
    [0.8, 1.1, 1.2, 1.2, 1.0, 0.8, 0.7, 0.7, 0.5, 0.2],
    [0.8, 1.3, 1.3, 1.2, 1.1, 1.1, 1.0, 0.9, 0.7, 0.5],
    [0.8, 1.2, 1.1, 1.2, 1.0, 0.9, 0.7, 0.6, 0.4, 0.3],
    [0.8, 1.5, 1.6, 1.4, 1.2, 1.1, 1.1, 1.0, 0.8, 0.6],
    [0.8, 1.2, 1.3, 1.3, 1.1, 0.9, 0.8, 0.7, 0.6, 0.4],
    [0.8, 1.3, 1.2, 1.1, 0.9, 0.8, 0.8, 0.7, 0.5, 0.3],
    [0.8, 1.1, 1.3, 1.2, 1.2, 1.0, 0.9, 0.8, 0.6, 0.5],
]
MEAN_JUNP1_1976 = [0.3, 0.25, 0.25, 0.2, 0.2, 0.25, 0.25, 0.25, 0.25, 0.25]
MEMBERS_JUNP1_1976 = [
    [0.3, 0.5, 0.6, 0.7, 0.6, 0.7, 0.8, 0.7, 0.6, 0.5],
    [0.3, 0.0, -0.2, -0.4, -0.6, -0.5, -0.3, -0.2, -0.1, 0.0],
    [0.3, 0.4, 0.3, 0.2, 0.3, 0.4, 0.5, 0.4, 0.5, 0.4],
    [0.3, 0.1, 0.0, -0.1, -0.2, 0.0, 0.1, 0.2, 0.1, 0.0],
    [0.3, 0.4, 0.5, 0.5, 0.4, 0.5, 0.6, 0.6, 0.5, 0.4],
    [0.3, 0.2, 0.1, 0.0, -0.1, -0.2, -0.1, 0.0, 0.2, 0.3],
    [0.3, 0.3, 0.4, 0.3, 0.2, 0.3, 0.3, 0.4, 0.3, 0.2],
    [0.3, 0.1, 0.2, 0.3, 0.4, 0.5, 0.4, 0.3, 0.2, 0.1],
    [0.3, 0.2, 0.0, 0.1, 0.2, 0.1, 0.2, 0.3, 0.4, 0.5],
    [0.3, 0.5, 0.4, 0.2, 0.0, 0.1, 0.2, 0.3, 0.3, 0.2],
    [0.3, 0.3, 0.2, 0.1, 0.1, 0.2, 0.4, 0.5, 0.6, 0.6],
    [0.3, 0.1, -0.1, -0.2, 0.0, 0.2, 0.3, 0.2, 0.0, -0.1],
]

OBS = {2009: OBS_2009, 1957: OBS_1957, 1968: OBS_1968, 1976: OBS_1976}

# ---------------------------------------------------------------------------
# Figure
# ---------------------------------------------------------------------------
FIG_W, FIG_H = 1267, 1442
fig = plt.figure(figsize=(FIG_W / 100, FIG_H / 100), dpi=100)
fig.patch.set_facecolor('white')

COL_LEFT = [84, 392, 700, 1008]
ROW_TOP = [40, 275, 509, 744, 979, 1210]
PANEL_W, PANEL_H = 234, 191

for r, lead in enumerate(LEADS):
    for c, yr in enumerate(YEARS):
        ax = fig.add_axes([COL_LEFT[c] / FIG_W, 1 - (ROW_TOP[r] + PANEL_H) / FIG_H,
                           PANEL_W / FIG_W, PANEL_H / FIG_H])
        ax.set_xlim(-2.1, 27.0)
        ax.set_ylim(-4.0, 4.0)

        # seasonal guide lines and reference levels
        for m in [0, 3, 6, 9, 12, 15, 18, 21, 24]:
            ax.axvline(m, color='#6e6e6e', lw=1.0, ls=(0, (3.6, 7.2)), zorder=1)
        for lev in (-0.5, 0.5):
            ax.axhline(lev, color='#8c8c8c', lw=1.2, ls=(0, (7.5, 5.0)), zorder=1)
        ax.axhline(0.0, color='black', lw=1.1, zorder=1.5)

        col = LEAD_COLOR[lead]
        members = globals()[f'MEMBERS_{lead.upper()}_{yr}']
        mean = globals()[f'MEAN_{lead.upper()}_{yr}']
        grid = MEMBER_MONTHS[lead]
        for mem in members:
            ax.plot(grid[:len(mem)], mem, color=col, lw=1.0, alpha=MEMBER_ALPHA[lead],
                    solid_joinstyle='round', zorder=2)

        obs = OBS[yr]
        ax.plot(np.arange(OBS_START, OBS_START + len(obs)), obs, color='black',
                lw=2.6, solid_joinstyle='round', zorder=3)

        start = LEAD_START[lead]
        ax.plot(np.arange(start, start + len(mean)), mean, color=col, lw=2.8,
                solid_joinstyle='round', solid_capstyle='round', zorder=4)

        # axes decoration
        for sp in ax.spines.values():
            sp.set_linewidth(2.0)
        ax.yaxis.set_major_locator(MultipleLocator(2.0))
        ax.yaxis.set_minor_locator(MultipleLocator(0.5))
        ax.yaxis.set_major_formatter(FormatStrFormatter('%.1f'))
        ax.tick_params(axis='y', which='major', direction='out', length=5, width=1.5,
                       labelsize=11, pad=2)
        ax.tick_params(axis='y', which='minor', direction='out', length=3, width=1.0)
        ax.set_xticks([0, 6, 12, 18, 24])
        ax.set_xticklabels([f'{yr - 1} Dec$^{{-1}}$', 'Jun$^{0}$', f'{yr} Dec$^{{0}}$',
                            'Jun$^{+1}$', f'{yr + 1} Dec$^{{+1}}$'],
                           rotation=8, fontsize=10)
        ax.tick_params(axis='x', which='major', direction='out', length=5, width=1.5, pad=0)
        ax.tick_params(axis='x', which='minor', bottom=False)

        if r == 0:
            ax.set_title(str(yr), fontsize=16, pad=6)
        if c == 0:
            ax.set_ylabel(ROW_LABELS[r], fontsize=14, labelpad=4)

fig.savefig('out.png', dpi=100)
